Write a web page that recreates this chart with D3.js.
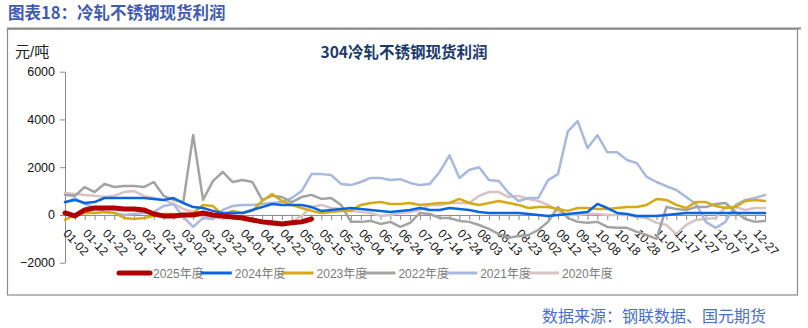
<!DOCTYPE html>
<html>
<head>
<meta charset="utf-8">
<script src="https://cdn.jsdelivr.net/npm/d3@7"></script>
<style>
  html, body { margin: 0; padding: 0; background: #fff; }
  svg { display: block; font-family: "Liberation Sans", "Noto Sans CJK SC", sans-serif; }
</style>
</head>
<body>
<svg id="chart" width="808" height="328"></svg>
<script>
// Date labels shown on the category axis (one every two sample steps)
const dateLabels = [
  "01-02","01-12","01-22","02-01","02-11","02-21","03-02","03-12","03-22",
  "04-01","04-12","04-22","05-05","05-15","05-25","06-04","06-14","06-24",
  "07-04","07-14","07-24","08-03","08-13","08-23","09-02","09-12","09-22",
  "10-08","10-18","10-28","11-07","11-17","11-27","12-07","12-17","12-27"
];

const seriesNames = ["2025年度", "2024年度", "2023年度", "2022年度", "2021年度", "2020年度"];

// Spot profit of 304 cold-rolled stainless (yuan/ton), one value per axis tick step
const profit2025 = [84,-40,210,290,290,290,250,250,210,40,-40,-40,
  0,0,84,0,-40,-85,-125,-210,-290,-330,-375,-330,
  -290,-170];

const profit2024 = [540,630,500,540,710,710,710,710,710,670,630,710,
  500,330,290,170,84,84,84,210,330,460,420,420,
  420,330,170,210,250,290,250,210,170,125,170,210,
  290,210,210,290,250,210,125,84,84,84,84,40,
  0,-40,0,40,84,125,460,290,84,40,-40,-40,
  -40,0,40,84,84,84,84,84,84,84,84,84];

const profit2023 = [-210,0,84,84,125,84,-125,-170,-125,-40,40,40,
  0,84,420,375,0,170,84,170,585,880,585,420,
  290,170,84,125,170,170,420,500,540,460,460,500,
  420,460,500,500,670,500,420,500,585,500,420,290,
  330,330,250,170,290,290,250,250,290,330,330,420,
  670,630,420,290,540,540,375,290,330,585,630,585];

const profit2022 = [840,800,1170,960,1300,1170,1210,1210,1170,1380,800,630,
  540,3350,630,1420,1800,1380,1460,1380,630,800,750,540,
  750,840,670,710,420,-290,-290,-250,-375,-290,-500,-330,
  84,40,-125,-125,-250,-290,-420,-585,-800,-960,-880,-840,
  -630,-290,330,-125,-290,-330,-290,-500,-540,-540,-710,-840,
  -1000,330,250,210,330,330,460,500,125,-170,-290,-250];

const profit2021 = [500,710,460,290,125,84,0,40,84,125,375,460,
  -85,-500,-125,-170,210,375,420,420,460,500,540,710,
  1000,1710,1710,1670,1300,1250,1380,1550,1550,1460,1500,1340,
  1250,1300,1800,2500,1550,1880,2000,1460,1420,920,585,710,
  710,1460,1710,3500,3930,2800,3340,2630,2630,2300,2170,1590,
  1380,1210,1045,750,460,-290,-540,-290,420,627,710,840];

const profit2020 = [920,880,840,800,750,800,960,1000,800,710,630,460,
  250,125,-85,-125,-125,-85,-125,-210,-330,-420,-375,-290,
  -40,330,420,290,250,170,125,84,-40,0,84,125,
  210,420,420,500,500,500,800,960,960,750,800,670,
  585,420,170,0,0,40,40,0,0,0,-85,-125,
  -330,-420,-800,-420,-210,-170,-125,330,330,210,290,290];

const yTicks = [-2000, 0, 2000, 4000, 6000];

// Line styles per series
const styles = [
  { color: "#b00000", width: 5 },
  { color: "#0a66dc", width: 2.5 },
  { color: "#d6aa14", width: 2.5 },
  { color: "#a3a3a3", width: 2.5 },
  { color: "#a9b8de", width: 2.5 },
  { color: "#d7c3c3", width: 2.5 }
];
const seriesValues = [profit2025, profit2024, profit2023, profit2022, profit2021, profit2020];
const series = seriesNames.map((name, i) => ({ name, values: seriesValues[i], ...styles[i] }));

const svg = d3.select("#chart");
const steps = dateLabels.length * 2; // 72 sample steps

const x = d3.scaleLinear().domain([0, steps - 1]).range([65, 765]);
const y = d3.scaleLinear().domain([-2000, 6000]).range([262.7, 71.7]);

// Outer frame and header rule
svg.append("rect")
  .attr("x", 7.5).attr("y", 29).attr("width", 790).attr("height", 266)
  .attr("fill", "none").attr("stroke", "#8a8a8a").attr("stroke-width", 1.2);
svg.append("line")
  .attr("x1", 7).attr("x2", 801).attr("y1", 28.5).attr("y2", 28.5)
  .attr("stroke", "#8a8a8a").attr("stroke-width", 2);

// Header
svg.append("text")
  .attr("x", 8).attr("y", 19)
  .attr("font-family", "'Noto Sans CJK SC', sans-serif")
  .attr("font-weight", "bold").attr("font-size", 16.5)
  .attr("fill", "#3f5bb0")
  .text("图表18：冷轧不锈钢现货利润");

// Chart title
svg.append("text")
  .attr("x", 404).attr("y", 58)
  .attr("text-anchor", "middle")
  .attr("font-family", "'Noto Sans CJK SC', sans-serif")
  .attr("font-weight", "bold").attr("font-size", 15.5)
  .attr("fill", "#1b3a6b")
  .text("304冷轧不锈钢现货利润");

// Unit label
svg.append("text")
  .attr("x", 15).attr("y", 57)
  .attr("font-size", 15).attr("fill", "#222")
  .text("元/吨");

// Y axis
const yAxis = svg.append("g")
  .attr("transform", "translate(65,0)")
  .call(d3.axisLeft(y).tickValues(yTicks).tickFormat(d3.format("d"))
    .tickSize(5).tickSizeOuter(0).tickPadding(5));
yAxis.selectAll("path, line").attr("stroke", "#8a8a8a");
yAxis.selectAll("text").attr("font-size", 12.5).attr("fill", "#111")
  .attr("font-family", "'Liberation Sans', sans-serif");

// X axis at zero
const xAxis = svg.append("g")
  .attr("transform", `translate(0,${y(0)})`)
  .call(d3.axisBottom(x)
    .tickValues(d3.range(0, steps))
    .tickSize(5).tickSizeOuter(0)
    .tickFormat(i => (i % 2 === 0 ? dateLabels[i / 2] : "")));
xAxis.selectAll("path, line").attr("stroke", "#8a8a8a");
xAxis.selectAll("text")
  .attr("font-size", 12).attr("fill", "#111")
  .attr("font-family", "'Liberation Sans', sans-serif")
  .attr("text-anchor", "start")
  .attr("x", 0).attr("y", 0).attr("dy", 0)
  .attr("transform", "translate(-3,19) rotate(47)");

// Series lines
const line = d3.line().x((d, i) => x(i)).y(d => y(d));
const lines = svg.append("g").attr("fill", "none").attr("stroke-linejoin", "round");
series.slice().reverse().forEach(s => {
  lines.append("path")
    .attr("d", line(s.values))
    .attr("stroke", s.color)
    .attr("stroke-width", s.width)
    .attr("stroke-linecap", "round");
});

// Legend
const legend = svg.append("g").attr("transform", "translate(119,273)");
series.forEach((s, i) => {
  const g = legend.append("g").attr("transform", `translate(${i * 81.8},0)`);
  g.append("line")
    .attr("x1", 0).attr("x2", 31).attr("y1", 0).attr("y2", 0)
    .attr("stroke", s.color).attr("stroke-width", s.width === 5 ? 5 : 3)
    .attr("stroke-linecap", s.width === 5 ? "round" : "butt");
  g.append("text")
    .attr("x", 34).attr("y", 4.5)
    .attr("font-size", 12).attr("fill", "#7a7a7a")
    .text(s.name);
});

// Source note
svg.append("text")
  .attr("x", 542).attr("y", 322)
  .attr("font-family", "'Noto Sans CJK SC', sans-serif")
  .attr("font-size", 16).attr("fill", "#4a6fc8")
  .text("数据来源：钢联数据、国元期货");
</script>
</body>
</html>
